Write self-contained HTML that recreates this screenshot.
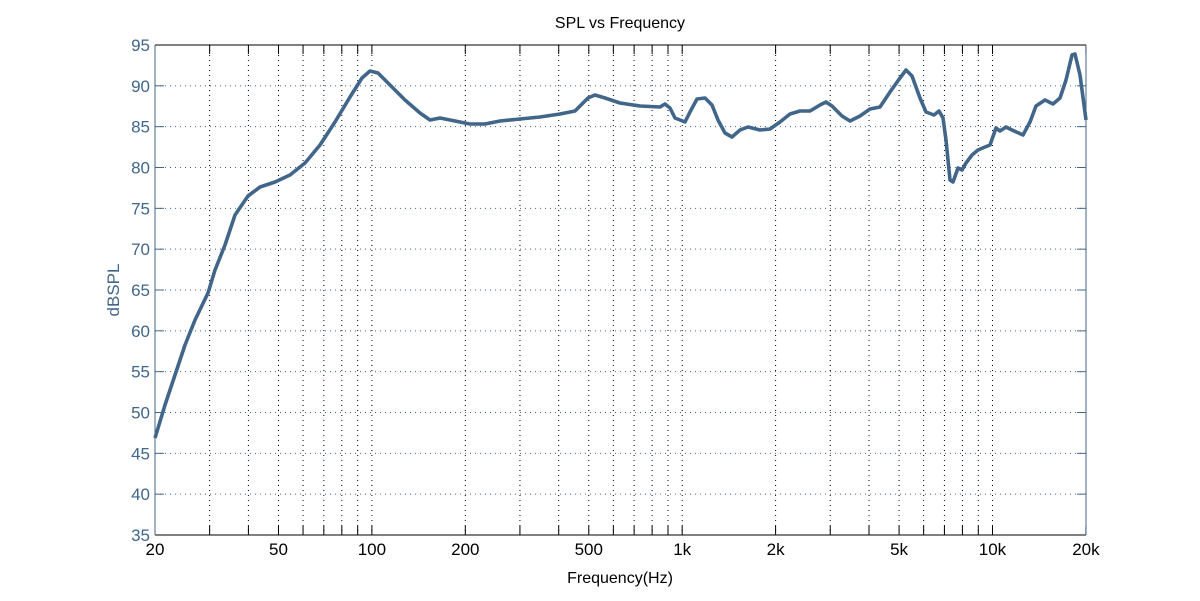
<!DOCTYPE html><html><head><style>body{margin:0;background:#fff}svg{display:block}text{font-family:"Liberation Sans",sans-serif}</style></head><body>
<svg id="s" width="1200" height="601" xmlns="http://www.w3.org/2000/svg">
<text x="620" y="28" font-size="16" text-anchor="middle" fill="#000">SPL vs Frequency</text>
<g id="g"></g>
<polyline fill="none" stroke="#41668a" stroke-width="3.6" stroke-linejoin="round" points="155,438 165,405 175,375 185,345 195,320 208,293 215,270 225,245 235,215 248,196 260,187 275,182 290,175 305,163 320,145 335,122 350,97 362,78 370,71 378,73 390,85 405,100 420,113 430,120 440,118 455,121 470,124 485,124 500,121 520,119 540,117 560,114 575,111 588,98 595,95 605,98 620,103 640,106 660,107 665,104 670,108 675,118 680,120 685,122 690,112 697,99 705,98 712,105 718,120 725,133 732,137 740,130 748,127 760,130 770,129 780,122 790,114 800,111 810,111 820,105 826,102 832,106 842,116 850,121 860,116 870,109 880,107 890,92 900,78 906,70 912,76 920,98 926,112 934,115 939,111 943,118 946,140 950,180 953,182 958,168 962,170 966,163 972,155 978,150 985,147 990,145 996,128 1000,131 1006,127 1012,130 1023,135 1030,122 1036,106 1045,100 1053,104 1060,98 1066,80 1072,55 1075,54 1080,75 1086,120"/>
<text x="620" y="583" font-size="16" text-anchor="middle" fill="#000">Frequency(Hz)</text>
<text transform="translate(119,290) rotate(-90)" font-size="17" text-anchor="middle" fill="#41668a">dBSPL</text>
</svg>
<script>
const g=document.getElementById('g');let h='';
const L=155,R=1086,T=45,B=535;
const X=f=>L+310.3*Math.log10(f/20);
for(let v=35;v<=95;v+=5){const y=B-(v-35)*490/60;
if(v>35&&v<95)h+=`<line x1="${L}" x2="${R}" y1="${y}" y2="${y}" stroke="#41668a" stroke-dasharray="1,4"/>`;
h+=`<line x1="${L}" x2="${L+9}" y1="${y}" y2="${y}" stroke="#41668a"/><line x1="${R-9}" x2="${R}" y1="${y}" y2="${y}" stroke="#41668a"/>`;
h+=`<text x="${L-5}" y="${y+6}" font-size="17" text-anchor="end" fill="#41668a">${v}</text>`;}
const labs={20:'20',50:'50',100:'100',200:'200',500:'500',1000:'1k',2000:'2k',5000:'5k',10000:'10k',20000:'20k'};
for(const d of [10,100,1000,10000])for(let m=1;m<10;m++){const f=d*m;if(f<20||f>20000)continue;const x=X(f);
if(f>20&&f<20000)h+=`<line x1="${x}" x2="${x}" y1="${T}" y2="${B}" stroke="#000" stroke-dasharray="1,4"/>`;
h+=`<line x1="${x}" x2="${x}" y1="${T}" y2="${T+9}" stroke="#000"/><line x1="${x}" x2="${x}" y1="${B-9}" y2="${B}" stroke="#000"/>`;
if(labs[f])h+=`<text x="${x}" y="${B+20}" font-size="17" text-anchor="middle" fill="#000">${labs[f]}</text>`;}
h+=`<line x1="${L}" x2="${R}" y1="${T}" y2="${T}" stroke="#000"/><line x1="${L}" x2="${R}" y1="${B}" y2="${B}" stroke="#000"/>`;
h+=`<line x1="${L}" x2="${L}" y1="${T}" y2="${B}" stroke="#41668a"/><line x1="${R}" x2="${R}" y1="${T}" y2="${B}" stroke="#41668a"/>`;
g.innerHTML=h;
</script>
</body></html>
